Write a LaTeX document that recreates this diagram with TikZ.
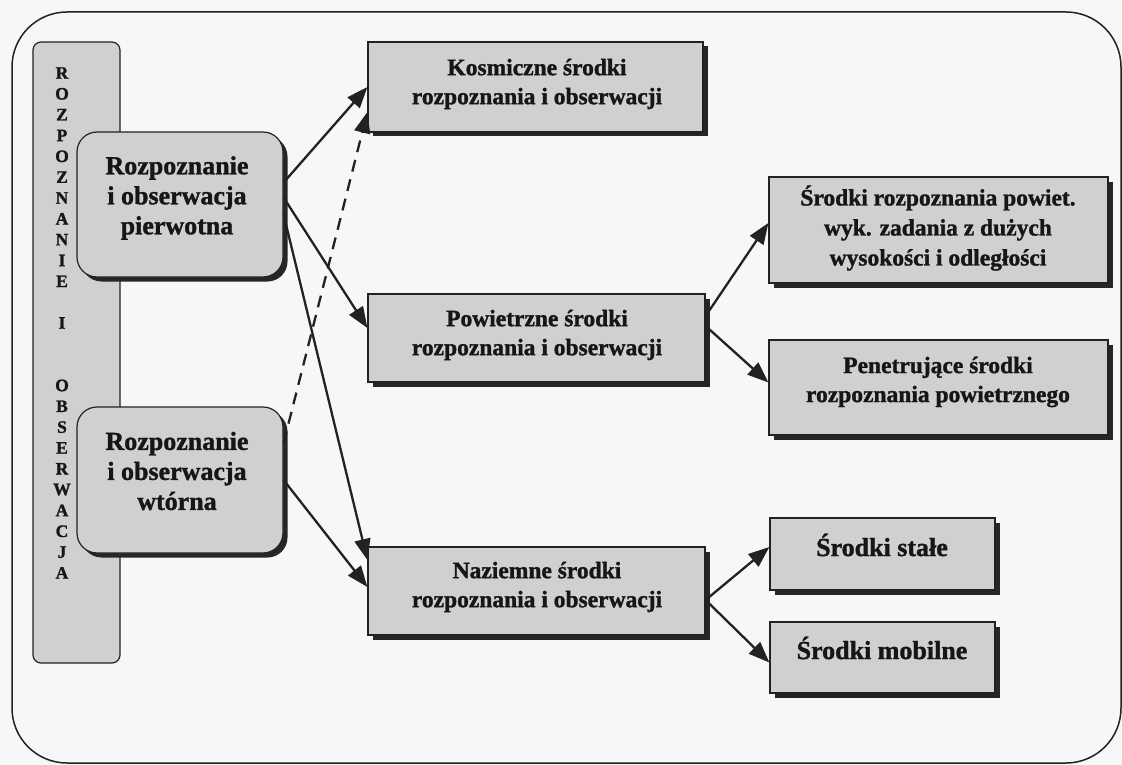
\documentclass[tikz,border=0pt]{standalone}
\usepackage{fontspec}
\setmainfont{Liberation Serif}[BoldFeatures={FakeBold=1.3}]
\usetikzlibrary{arrows.meta,shadows}

\definecolor{bg}{HTML}{F6F7F9}
\definecolor{boxfill}{HTML}{D0D0D0}
\definecolor{edge}{HTML}{222222}
\definecolor{ink}{HTML}{161616}

\begin{document}
\begin{tikzpicture}[x=1pt,y=-1pt,
  sq/.style={draw=edge, line width=1.2pt, fill=boxfill, inner sep=0pt,
    drop shadow={shadow xshift=4.5pt, shadow yshift=-4.5pt, fill=black!85, opacity=1}},
  rnd/.style={sq, rounded corners=20pt},
  barbox/.style={draw=edge, line width=1.2pt, fill=boxfill, rounded corners=8pt, inner sep=0pt},
  letter/.style={font=\bfseries\fontsize{17.5}{18}\selectfont, text=ink, inner sep=0pt},
  lbl/.style={font=\bfseries\fontsize{23.5}{29}\selectfont, align=center, text=ink, inner sep=0pt},
  lblL/.style={font=\bfseries\fontsize{26}{30}\selectfont, align=center, text=ink, inner sep=0pt},
  lblS/.style={font=\bfseries\fontsize{26}{30}\selectfont, align=center, text=ink, inner sep=0pt},
  conn/.style={line width=2.3pt, draw=edge, -{Triangle[length=21pt,width=16pt]}},
  dconn/.style={conn, dash pattern=on 12pt off 8pt},
]
\useasboundingbox (0,0) rectangle (1122,765);
\fill[bg] (0,0) rectangle (1122,765);

% outer frame
\draw[edge, line width=1.5pt, rounded corners=55pt] (12,12) rectangle (1121,763);

% vertical bar
\node[barbox, minimum width=87pt, minimum height=621pt] (bar) at (76.5,352.5) {};
\foreach \i/\c in {0/R,1/O,2/Z,3/P,4/O,5/Z,6/N,7/A,8/N,9/I,10/E,12/I,15/O,16/B,17/S,18/E,19/R,20/W,21/A,22/C,23/J,24/A}
  \node[letter] (L\i) at (62,{73+\i*20.83}) {\c};

% left rounded boxes
\node[rnd, minimum width=206pt, minimum height=145pt] (b1) at (180,204.5) {};
\node[lblL] (b1t) at (177,198) {Rozpoznanie\\i obserwacja\\pierwotna};
\node[rnd, minimum width=206pt, minimum height=146pt] (b2) at (180,480) {};
\node[lblL] (b2t) at (177,471) {Rozpoznanie\\i obserwacja\\wtórna};

% middle boxes
\node[sq, minimum width=335pt, minimum height=90pt] (k) at (535.5,87) {};
\node[lbl] (kt) at (537,84) {Kosmiczne środki\\rozpoznania i obserwacji};
\node[sq, minimum width=337pt, minimum height=88pt] (p) at (536.5,338) {};
\node[lbl] (pt) at (537,335) {Powietrzne środki\\rozpoznania i obserwacji};
\node[sq, minimum width=337pt, minimum height=88pt] (n) at (536.5,591) {};
\node[lbl] (nt) at (537,587) {Naziemne środki\\rozpoznania i obserwacji};

% right boxes
\node[sq, minimum width=339pt, minimum height=106pt] (r1) at (938.5,230) {};
\node[lbl, font=\bfseries\fontsize{23.5}{30}\selectfont] (r1t) at (938,228) {Środki rozpoznania powiet.\\wyk. zadania z dużych\\wysokości i odległości};
\node[sq, minimum width=339pt, minimum height=95pt] (r2) at (938.5,387.5) {};
\node[lbl] (r2t) at (938,382) {Penetrujące środki\\rozpoznania powietrznego};
\node[sq, minimum width=225pt, minimum height=72pt] (s) at (882.5,554) {};
\node[lblS] (st) at (882,545) {Środki stałe};
\node[sq, minimum width=225pt, minimum height=71pt] (m) at (882.5,657.5) {};
\node[lblS] (mt) at (882,648) {Środki mobilne};

% connectors
\draw[conn] ([yshift=22pt]b1.east) -- (k.west);
\draw[conn] ([yshift=7pt]b1.east) -- ([yshift=10pt]p.west);
\draw[conn] ([yshift=-10pt]b1.east) -- ([yshift=31pt]n.west);
\draw[conn] (b2.east) -- ([yshift=4pt]n.west);
\draw[dconn] ([yshift=37pt]b2.east) -- ([yshift=-25pt]k.west);
\draw[conn] ([yshift=22pt]p.east) -- ([yshift=7pt]r1.west);
\draw[conn] ([yshift=12pt]p.east) -- ([yshift=5pt]r2.west);
\draw[conn] ([yshift=-9pt]n.east) -- ([yshift=7pt]s.west);
\draw[conn] ([yshift=-9pt]n.east) -- ([yshift=-5pt]m.west);
\end{tikzpicture}
\end{document}
